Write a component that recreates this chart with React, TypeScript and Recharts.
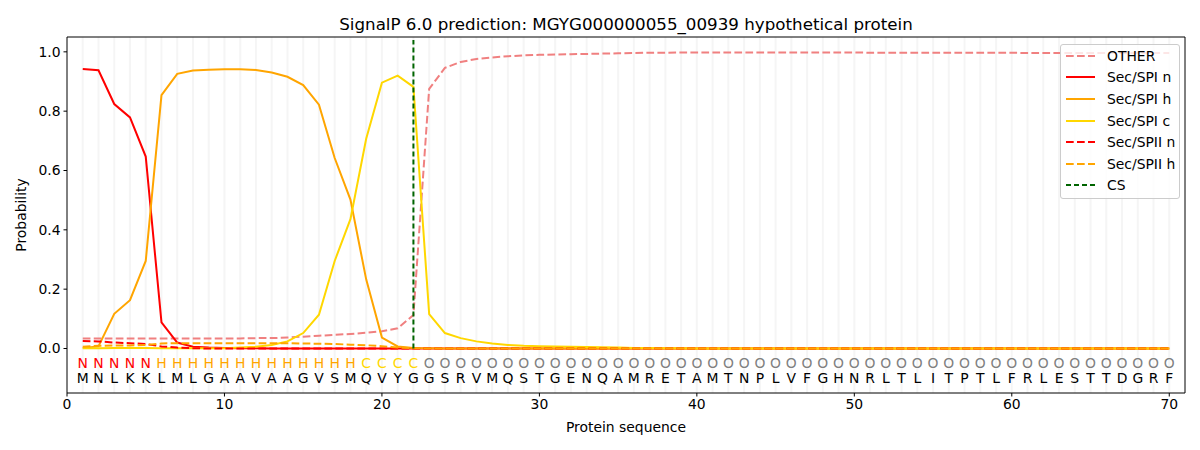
import React from "react";
import {
  ComposedChart,
  Line,
  XAxis,
  YAxis,
  ReferenceLine,
  ReferenceDot,
  Legend,
} from "recharts";

// residues and predicted region per residue
const sequence = "MNLKKLMLGAAVAAGVSMQVYGGSRVMQSTGENQAMRETAMTNPLVFGHNRLTLITPTLFRLESTTDGRF".split("");
const regions = ("NNNNN" + "HHHHHHHHHHHHH" + "CCCC" +
  "OOOOOOOOOO" + "OOOOOOOOOO" + "OOOOOOOOOO" + "OOOOOOOOOO" + "OOOOOOOO").split("");

const other = [
  0.034, 0.034, 0.034, 0.034, 0.034, 0.034, 0.034, 0.034, 0.034, 0.034,
  0.034, 0.035, 0.035, 0.037, 0.040, 0.043, 0.046, 0.049, 0.053, 0.058,
  0.068, 0.113, 0.875, 0.946, 0.966, 0.976, 0.981, 0.985, 0.988, 0.990,
  0.991, 0.992, 0.993, 0.994, 0.995, 0.996, 0.997, 0.997, 0.998, 0.998,
  0.998, 0.998, 0.998, 0.998, 0.998, 0.998, 0.998, 0.998, 0.998, 0.998,
  0.997, 0.997, 0.997, 0.997, 0.997, 0.997, 0.997, 0.997, 0.997, 0.997,
  0.996, 0.996, 0.996, 0.996, 0.996, 0.996, 0.996, 0.996, 0.996, 0.996,
];
const spiN = [
  0.942, 0.938, 0.824, 0.779, 0.647, 0.088, 0.020, 0.006, 0.003, 0.002,
  0.001, 0.001, 0, 0, 0, 0, 0, 0, 0, 0,
  0, 0, 0, 0, 0, 0, 0, 0, 0, 0,
  0, 0, 0, 0, 0, 0, 0, 0, 0, 0,
  0, 0, 0, 0, 0, 0, 0, 0, 0, 0,
  0, 0, 0, 0, 0, 0, 0, 0, 0, 0,
  0, 0, 0, 0, 0, 0, 0, 0, 0, 0,
];
const spiH = [
  0.002, 0.007, 0.117, 0.163, 0.295, 0.854, 0.926, 0.937, 0.940, 0.941,
  0.941, 0.939, 0.930, 0.916, 0.888, 0.822, 0.642, 0.502, 0.233, 0.037,
  0.007, 0.002, 0.001, 0, 0, 0, 0, 0, 0, 0,
  0, 0, 0, 0, 0, 0, 0, 0, 0, 0,
  0, 0, 0, 0, 0, 0, 0, 0, 0, 0,
  0, 0, 0, 0, 0, 0, 0, 0, 0, 0,
  0, 0, 0, 0, 0, 0, 0, 0, 0, 0,
];
const spiC = [
  0.001, 0.001, 0.002, 0.002, 0.002, 0.001, 0.001, 0.001, 0.001, 0.001,
  0.003, 0.006, 0.012, 0.024, 0.052, 0.114, 0.295, 0.436, 0.707, 0.896,
  0.920, 0.882, 0.116, 0.052, 0.035, 0.024, 0.017, 0.012, 0.009, 0.008,
  0.007, 0.006, 0.005, 0.004, 0.003, 0.002, 0.002, 0.001, 0.001, 0,
  0, 0, 0, 0, 0, 0, 0, 0, 0, 0,
  0, 0, 0, 0, 0, 0, 0, 0, 0, 0,
  0, 0, 0, 0, 0, 0, 0, 0, 0, 0,
];
const spiiN = [
  0.025, 0.024, 0.020, 0.018, 0.015, 0.007, 0.003, 0.001, 0, 0,
  0, 0, 0, 0, 0, 0, 0, 0, 0, 0,
  0, 0, 0, 0, 0, 0, 0, 0, 0, 0,
  0, 0, 0, 0, 0, 0, 0, 0, 0, 0,
  0, 0, 0, 0, 0, 0, 0, 0, 0, 0,
  0, 0, 0, 0, 0, 0, 0, 0, 0, 0,
  0, 0, 0, 0, 0, 0, 0, 0, 0, 0,
];
const spiiH = [
  0.006, 0.009, 0.010, 0.010, 0.012, 0.017, 0.018, 0.018, 0.018, 0.018,
  0.018, 0.018, 0.018, 0.018, 0.017, 0.016, 0.015, 0.013, 0.011, 0.008,
  0.003, 0.001, 0, 0, 0, 0, 0, 0, 0, 0,
  0, 0, 0, 0, 0, 0, 0, 0, 0, 0,
  0, 0, 0, 0, 0, 0, 0, 0, 0, 0,
  0, 0, 0, 0, 0, 0, 0, 0, 0, 0,
  0, 0, 0, 0, 0, 0, 0, 0, 0, 0,
];

const cleavageSite = 22;
const xTicks = [0, 10, 20, 30, 40, 50, 60, 70];
const yTicks = [0, 0.2, 0.4, 0.6, 0.8, 1.0];

const regionColor: Record<string, string> = {
  N: "#ff0000",
  H: "#ffa500",
  C: "#ffd700",
  O: "#808080",
};

const series = [
  { key: "other", name: "OTHER", color: "#f08080", dash: "7.7 3.3" },
  { key: "spiN", name: "Sec/SPI n", color: "#ff0000", dash: undefined },
  { key: "spiH", name: "Sec/SPI h", color: "#ffa500", dash: undefined },
  { key: "spiC", name: "Sec/SPI c", color: "#ffd700", dash: undefined },
  { key: "spiiN", name: "Sec/SPII n", color: "#ff0000", dash: "7.7 3.3" },
  { key: "spiiH", name: "Sec/SPII h", color: "#ffa500", dash: "7.7 3.3" },
];

const data = sequence.map((aa, i) => ({
  pos: i + 1,
  aa,
  region: regions[i],
  other: other[i],
  spiN: spiN[i],
  spiH: spiH[i],
  spiC: spiC[i],
  spiiN: spiiN[i],
  spiiH: spiiH[i],
}));

const FONT = "'DejaVu Sans', sans-serif";

function LegendBox() {
  const items = [
    ...series.map((s) => ({ name: s.name, color: s.color, dash: s.dash })),
    { name: "CS", color: "#006400", dash: "5 3" },
  ];
  return (
    <div
      style={{
        border: "1px solid #cccccc",
        borderRadius: 3,
        background: "rgba(255,255,255,0.8)",
        padding: "0 0 2px 0",
        fontFamily: FONT,
        fontSize: 13.9,
        color: "#000",
      }}
    >
      {items.map((it) => (
        <div
          key={it.name}
          style={{ display: "flex", alignItems: "center", height: 21.6 }}
        >
          <svg width={29} height={4} style={{ marginLeft: 5, marginRight: 12 }}>
            <line
              x1={0}
              x2={29}
              y1={2}
              y2={2}
              stroke={it.color}
              strokeWidth={2}
              strokeDasharray={it.dash}
            />
          </svg>
          <span>{it.name}</span>
        </div>
      ))}
    </div>
  );
}

export default function App() {
  return (
    <div
      style={{
        position: "absolute",
        left: 0,
        top: 0,
        width: 1200,
        height: 450,
        background: "#fff",
        fontFamily: FONT,
      }}
    >
      <div
        style={{
          position: "absolute",
          left: 67,
          width: 1118,
          top: 13,
          textAlign: "center",
          fontSize: 16.7,
          lineHeight: "22px",
        }}
      >
        SignalP 6.0 prediction: MGYG000000055_00939 hypothetical protein
      </div>
      <div
        style={{
          position: "absolute",
          left: 21,
          top: 215,
          transform: "translate(-50%, -50%) rotate(-90deg)",
          fontSize: 13.9,
          whiteSpace: "nowrap",
        }}
      >
        Probability
      </div>
      <div
        style={{
          position: "absolute",
          left: 67,
          width: 1118,
          top: 419,
          textAlign: "center",
          fontSize: 13.9,
        }}
      >
        Protein sequence
      </div>

      <ComposedChart
        width={1200}
        height={450}
        data={data}
        margin={{ top: 37, right: 15, bottom: 27, left: 17 }}
      >
        <XAxis
          dataKey="pos"
          type="number"
          domain={[0, 71]}
          ticks={xTicks}
          tickSize={3.5}
          tickMargin={3}
          height={30}
          stroke="#000"
          tick={{ fill: "#000", fontSize: 13.9, fontFamily: FONT }}
          allowDataOverflow
        />
        <YAxis
          type="number"
          domain={[-0.15, 1.05]}
          ticks={yTicks}
          tickFormatter={(v: number) => v.toFixed(1)}
          tickSize={3.5}
          tickMargin={3}
          width={50}
          stroke="#000"
          tick={{ fill: "#000", fontSize: 13.9, fontFamily: FONT }}
          allowDataOverflow
        />

        {data.map((d) => (
          <ReferenceLine
            key={"g" + d.pos}
            x={d.pos}
            stroke="#d3d3d3"
            strokeOpacity={0.22}
            strokeWidth={2}
          />
        ))}

        {series.map((s) => (
          <Line
            key={s.key}
            dataKey={s.key}
            name={s.name}
            type="linear"
            stroke={s.color}
            strokeWidth={2}
            strokeDasharray={s.dash}
            dot={false}
            activeDot={false}
            isAnimationActive={false}
          />
        ))}

        <ReferenceLine
          segment={[
            { x: cleavageSite, y: 0 },
            { x: cleavageSite, y: 1.04 },
          ]}
          stroke="#006400"
          strokeWidth={2}
          strokeDasharray="5 3"
        />

        {data.map((d) => (
          <ReferenceDot
            key={"r" + d.pos}
            x={d.pos}
            y={-0.05}
            r={0}
            shape={(p: any) => (
              <text
                x={p.cx}
                y={p.cy}
                textAnchor="middle"
                dominantBaseline="central"
                fontSize={13.9}
                fontFamily={FONT}
                fill={regionColor[d.region]}
              >
                {d.region}
              </text>
            )}
          />
        ))}
        {data.map((d) => (
          <ReferenceDot
            key={"a" + d.pos}
            x={d.pos}
            y={-0.1}
            r={0}
            shape={(p: any) => (
              <text
                x={p.cx}
                y={p.cy}
                textAnchor="middle"
                dominantBaseline="central"
                fontSize={13.9}
                fontFamily={FONT}
                fill="#000"
              >
                {d.aa}
              </text>
            )}
          />
        ))}

        <ReferenceLine y={1.05} stroke="#000" strokeWidth={1} />
        <ReferenceLine x={71} stroke="#000" strokeWidth={1} />

        <Legend
          layout="vertical"
          align="center"
          verticalAlign="middle"
          content={() => <LegendBox />}
          wrapperStyle={{ left: 1060, top: 44, width: 120 }}
        />
      </ComposedChart>
    </div>
  );
}
